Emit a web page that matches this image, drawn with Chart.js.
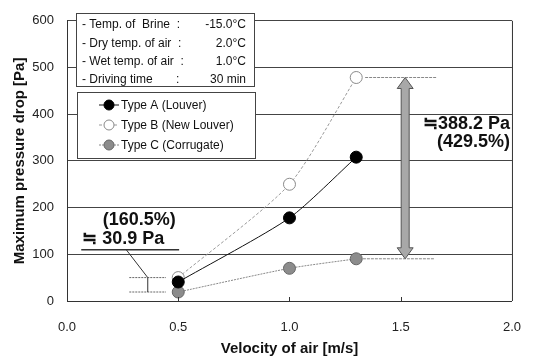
<!DOCTYPE html>
<html>
<head>
<meta charset="utf-8">
<script src="https://cdn.jsdelivr.net/npm/chart.js@4.4.1/dist/chart.umd.min.js"></script>
<style>
  html, body { margin: 0; padding: 0; background: #fff; }
  #chart { display: block; }
</style>
</head>
<body>
<canvas id="chart" width="540" height="358"></canvas>
<script>
// air velocity [m/s] and max pressure drop [Pa] per fin type
const velocity = [0.5, 1.0, 1.3];
const typeA = [40.7, 178, 308];
const typeB = [50.15, 250, 478.58];
const typeC = [19.25, 70, 90.38];
const seriesNames = ['Type A (Louver)', 'Type B (New Louver)', 'Type C (Corrugate)'];
const xTicks = [0, 0.5, 1.0, 1.5, 2.0];
const yTicks = [0, 100, 200, 300, 400, 500, 600];

// test conditions shown in the upper box
const conditionNames = ['- Temp. of  Brine  :', '- Dry temp. of air  :', '- Wet temp. of air  :', '- Driving time       :'];
const conditionValues = ['-15.0\u00b0C', '2.0\u00b0C', '1.0\u00b0C', '30 min'];

const FONT = '"Liberation Sans", Arial, sans-serif';

const toPoints = ys => velocity.map((v, i) => ({ x: v, y: ys[i] }));

const fmtPct = (d, base) => '(' + (d / base * 100).toFixed(1) + '%)';

const overlay = {
  id: 'overlay',
  afterDatasetsDraw(chart) {
    const { ctx, chartArea: a, scales: { x, y } } = chart;
    ctx.save();

    // frame on the right side
    ctx.strokeStyle = '#333';
    ctx.lineWidth = 1;
    ctx.beginPath();
    ctx.moveTo(a.right + 0.5, a.top);
    ctx.lineTo(a.right + 0.5, a.bottom);
    ctx.stroke();

    // small inward ticks on the x axis
    xTicks.slice(1, -1).forEach(v => {
      const px = Math.round(x.getPixelForValue(v)) + 0.5;
      ctx.beginPath();
      ctx.moveTo(px, a.bottom);
      ctx.lineTo(px, a.bottom - 4);
      ctx.stroke();
    });

    // condition box
    ctx.fillStyle = '#fff';
    ctx.fillRect(76, 13, 178, 73);
    ctx.strokeStyle = '#444';
    ctx.strokeRect(76.5, 13.5, 178, 73);
    ctx.font = '12px ' + FONT;
    ctx.fillStyle = '#111';
    ctx.textBaseline = 'middle';
    conditionNames.forEach((n, i) => {
      const ty = 25 + i * 18.3;
      ctx.textAlign = 'left';
      ctx.fillText(n, 82, ty);
      ctx.textAlign = 'right';
      ctx.fillText(conditionValues[i], 246, ty);
    });

    // legend box
    ctx.fillStyle = '#fff';
    ctx.fillRect(77, 92, 178, 66);
    ctx.strokeStyle = '#444';
    ctx.strokeRect(77.5, 92.5, 178, 66);
    chart.data.datasets.forEach((ds, i) => {
      const ly = 105 + i * 20;
      ctx.save();
      ctx.strokeStyle = ds.borderColor;
      ctx.lineWidth = 1;
      ctx.setLineDash(ds.borderDash || []);
      ctx.beginPath();
      ctx.moveTo(99, ly);
      ctx.lineTo(119, ly);
      ctx.stroke();
      ctx.setLineDash([]);
      ctx.beginPath();
      ctx.arc(109, ly, 5, 0, Math.PI * 2);
      ctx.fillStyle = ds.pointBackgroundColor;
      ctx.fill();
      ctx.strokeStyle = ds.pointBorderColor;
      ctx.stroke();
      ctx.restore();
      ctx.font = '12px ' + FONT;
      ctx.fillStyle = '#111';
      ctx.textAlign = 'left';
      ctx.fillText(ds.label, 121, ly + 1);
    });

    // gap between B and C at the lowest velocity
    const lowGap = typeB[0] - typeC[0];
    const bx0 = x.getPixelForValue(0.28), bx1 = x.getPixelForValue(0.445);
    const bxm = x.getPixelForValue(0.363);
    const byTop = y.getPixelForValue(typeB[0]), byBot = y.getPixelForValue(typeC[0]);
    ctx.strokeStyle = '#666';
    ctx.setLineDash([2, 1]);
    [byTop, byBot].forEach(py => {
      ctx.beginPath();
      ctx.moveTo(bx0, py);
      ctx.lineTo(bx1, py);
      ctx.stroke();
    });
    ctx.setLineDash([]);
    ctx.strokeStyle = '#333';
    ctx.beginPath();
    ctx.moveTo(bxm, byTop);
    ctx.lineTo(bxm, byBot);
    ctx.stroke();
    const ulY = y.getPixelForValue(110);
    ctx.beginPath();
    ctx.moveTo(x.getPixelForValue(0.266), ulY);
    ctx.lineTo(bxm, byTop);
    ctx.stroke();
    ctx.lineWidth = 1.5;
    ctx.beginPath();
    ctx.moveTo(x.getPixelForValue(0.064), ulY);
    ctx.lineTo(x.getPixelForValue(0.504), ulY);
    ctx.stroke();
    ctx.lineWidth = 1;
    ctx.font = 'bold 18px ' + FONT;
    ctx.fillStyle = '#111';
    ctx.textAlign = 'center';
    ctx.fillText(fmtPct(lowGap, typeC[0]), x.getPixelForValue(0.325), y.getPixelForValue(174));
    ctx.textAlign = 'left';
    ctx.fillText('\u2252 ' + lowGap.toFixed(1) + ' Pa', x.getPixelForValue(0.068), y.getPixelForValue(133));

    // gap between B and C at the highest velocity
    const last = velocity.length - 1;
    const highGap = typeB[last] - typeC[last];
    const ax = x.getPixelForValue(1.52);
    const ayTop = y.getPixelForValue(typeB[last]), ayBot = y.getPixelForValue(typeC[last]);
    ctx.strokeStyle = '#888';
    ctx.setLineDash([3, 1]);
    [[1.34, 1.66, ayTop], [1.33, 1.65, ayBot]].forEach(([v0, v1, py]) => {
      ctx.beginPath();
      ctx.moveTo(x.getPixelForValue(v0), py);
      ctx.lineTo(x.getPixelForValue(v1), py);
      ctx.stroke();
    });
    ctx.setLineDash([]);
    const sw = 4, hw = 8, hl = 11;
    ctx.beginPath();
    ctx.moveTo(ax, ayTop);
    ctx.lineTo(ax + hw, ayTop + hl);
    ctx.lineTo(ax + sw, ayTop + hl);
    ctx.lineTo(ax + sw, ayBot - hl);
    ctx.lineTo(ax + hw, ayBot - hl);
    ctx.lineTo(ax, ayBot);
    ctx.lineTo(ax - hw, ayBot - hl);
    ctx.lineTo(ax - sw, ayBot - hl);
    ctx.lineTo(ax - sw, ayTop + hl);
    ctx.lineTo(ax - hw, ayTop + hl);
    ctx.closePath();
    ctx.fillStyle = '#a8a8a8';
    ctx.fill();
    ctx.strokeStyle = '#555';
    ctx.stroke();

    ctx.font = 'bold 18px ' + FONT;
    ctx.fillStyle = '#111';
    ctx.textAlign = 'right';
    ctx.fillText('\u2252' + highGap.toFixed(1) + ' Pa', a.right - 2, y.getPixelForValue(380));
    ctx.fillText(fmtPct(highGap, typeC[last]), a.right - 2, y.getPixelForValue(340));

    ctx.restore();
  }
};

new Chart(document.getElementById('chart'), {
  type: 'line',
  data: {
    datasets: [
      {
        label: seriesNames[0],
        data: toPoints(typeA),
        borderColor: '#111',
        borderWidth: 1,
        pointBackgroundColor: '#000',
        pointBorderColor: '#000',
        pointRadius: 6,
        tension: 0.22
      },
      {
        label: seriesNames[1],
        data: toPoints(typeB),
        borderColor: '#999',
        borderWidth: 1,
        borderDash: [3, 2],
        pointBackgroundColor: '#fff',
        pointBorderColor: '#8a8a8a',
        pointRadius: 6,
        tension: 0.22
      },
      {
        label: seriesNames[2],
        data: toPoints(typeC),
        borderColor: '#888',
        borderWidth: 1,
        borderDash: [2, 1],
        pointBackgroundColor: '#8c8c8c',
        pointBorderColor: '#666',
        pointRadius: 6,
        tension: 0.22
      }
    ]
  },
  options: {
    responsive: false,
    animation: false,
    devicePixelRatio: 1,
    layout: { padding: { top: 10, right: 19, bottom: 0, left: 0 } },
    plugins: {
      legend: { display: false },
      tooltip: { enabled: false }
    },
    scales: {
      x: {
        type: 'linear',
        min: 0,
        max: 2,
        afterBuildTicks: s => { s.ticks = xTicks.map(v => ({ value: v })); },
        afterFit: s => { s.height = 57; },
        grid: { display: false, drawTicks: false },
        border: { display: true, color: '#333', width: 1 },
        ticks: {
          padding: 19,
          color: '#222',
          font: { family: FONT, size: 13 },
          callback: v => v.toFixed(1)
        },
        title: {
          display: true,
          text: 'Velocity of air [m/s]',
          color: '#111',
          font: { family: FONT, size: 15, weight: 'bold' },
          padding: { top: 0, bottom: 0 }
        }
      },
      y: {
        min: 0,
        max: 600,
        afterBuildTicks: s => { s.ticks = yTicks.map(v => ({ value: v })); },
        afterFit: s => { s.width = 67; },
        grid: { color: '#444', lineWidth: 1, drawTicks: false },
        border: { display: true, color: '#333', width: 1 },
        ticks: {
          padding: 13,
          color: '#222',
          font: { family: FONT, size: 13 }
        },
        title: {
          display: true,
          text: 'Maximum pressure drop [Pa]',
          color: '#111',
          font: { family: FONT, size: 15, weight: 'bold' },
          padding: { top: 11, bottom: 0 }
        }
      }
    }
  },
  plugins: [overlay]
});
</script>
</body>
</html>
